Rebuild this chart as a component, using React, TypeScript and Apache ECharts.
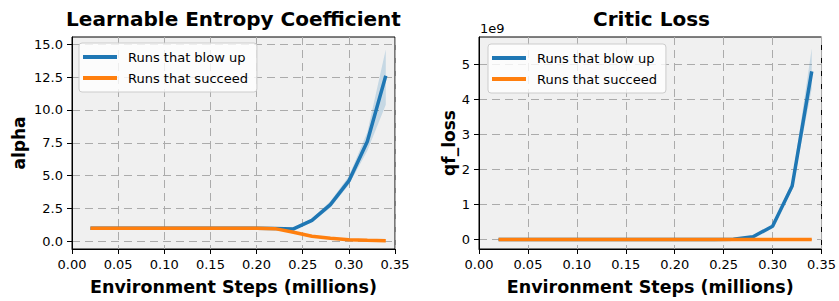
import React, { useEffect, useRef } from "react";
import * as echarts from "echarts";

// ---- data ----
const steps = [0.02, 0.04, 0.06, 0.08, 0.1, 0.12, 0.14, 0.16, 0.18, 0.2, 0.22, 0.24, 0.26, 0.28, 0.3, 0.32, 0.34];

const alphaBlowUp = [1.0, 1.0, 1.0, 1.0, 1.0, 1.0, 1.0, 1.0, 1.0, 1.0, 0.98, 0.95, 1.6, 2.8, 4.6, 7.6, 12.6];
const alphaBlowUpLow = [0.99, 0.99, 0.99, 0.99, 0.99, 0.99, 0.99, 0.99, 0.99, 0.99, 0.95, 0.9, 1.45, 2.55, 4.3, 6.9, 10.4];
const alphaBlowUpHigh = [1.01, 1.01, 1.01, 1.01, 1.01, 1.01, 1.01, 1.01, 1.01, 1.01, 1.01, 1.03, 1.75, 3.05, 4.95, 8.3, 14.6];
const alphaSucceed = [1.0, 1.0, 1.0, 1.0, 1.0, 1.0, 1.0, 1.0, 1.0, 1.0, 0.97, 0.69, 0.39, 0.23, 0.13, 0.08, 0.05];

const qfBlowUp = [0, 0, 0, 0, 0, 0, 0, 0, 0, 0, 0, 0, 0.01e9, 0.08e9, 0.38e9, 1.53e9, 4.8e9];
const qfBlowUpLow = [0, 0, 0, 0, 0, 0, 0, 0, 0, 0, 0, 0, 0.005e9, 0.06e9, 0.34e9, 1.42e9, 4.3e9];
const qfBlowUpHigh = [0, 0, 0, 0, 0, 0, 0, 0, 0, 0, 0, 0, 0.015e9, 0.1e9, 0.42e9, 1.65e9, 5.45e9];
const qfSucceed = [0.001e9, 0.001e9, 0.001e9, 0.001e9, 0.001e9, 0.001e9, 0.001e9, 0.001e9, 0.001e9, 0.001e9, 0.001e9, 0.001e9, 0.001e9, 0.001e9, 0.001e9, 0.001e9, 0.001e9];

const xTickLabels = [0, 0.05, 0.1, 0.15, 0.2, 0.25, 0.3, 0.35];
const yTicksAlpha = [0, 2.5, 5, 7.5, 10, 12.5, 15];
const yTicksQf = [0, 1e9, 2e9, 3e9, 4e9, 5e9];

const seriesNames = ["Runs that blow up", "Runs that succeed"];
const titles = ["Learnable Entropy Coefficient", "Critic Loss"];

const BLUE = "#1f77b4";
const ORANGE = "#ff7f0e";
const BAND = "rgba(31,119,180,0.2)";
const FONT = "DejaVu Sans";
const GRIDLINE = { color: "#ababab", type: [8, 5], width: 1 };

const pairs = (ys: number[]) => steps.map((x, i) => [x, ys[i]]);

export default function App() {
  const ref = useRef<HTMLDivElement>(null);
  useEffect(() => {
    document.body.style.margin = "0";
    if (!ref.current) return;
    const chart = echarts.init(ref.current, undefined, { renderer: "svg" });

    const grids = [
      { left: 72, top: 37, width: 323, height: 213 },
      { left: 479, top: 37, width: 345, height: 214 },
    ];

    const xAxisCommon = (gi: number) => ({
      type: "value",
      gridIndex: gi,
      min: xTickLabels[0],
      max: xTickLabels[xTickLabels.length - 1],
      interval: 0.05,
      name: "Environment Steps (millions)",
      nameLocation: "middle",
      nameGap: 29,
      nameTextStyle: { fontFamily: FONT, fontWeight: "bold", fontSize: 17.5, color: "#000" },
      axisLine: { show: true, onZero: false, lineStyle: { color: "#000", width: 1 } },
      axisTick: { show: true, length: 5, lineStyle: { color: "#000", width: 1 } },
      axisLabel: {
        fontFamily: FONT,
        fontSize: 13,
        color: "#000",
        margin: 9,
        formatter: (v: number) => v.toFixed(2),
      },
      splitLine: { show: true, lineStyle: GRIDLINE },
    });

    const yAxisCommon = (gi: number, name: string, min: number, max: number, ticks: number[], fmt: (v: number) => string, gap: number) => ({
      type: "value",
      gridIndex: gi,
      min,
      max,
      name,
      nameLocation: "middle",
      nameGap: gap,
      nameTextStyle: { fontFamily: FONT, fontWeight: "bold", fontSize: 17, color: "#000" },
      axisLine: { show: true, onZero: false, lineStyle: { color: "#000", width: 1 } },
      axisTick: { show: true, length: 5, customValues: ticks, lineStyle: { color: "#000", width: 1 } },
      axisLabel: {
        fontFamily: FONT,
        fontSize: 13,
        color: "#000",
        margin: 9,
        customValues: ticks,
        formatter: fmt,
      },
      splitLine: { show: true, lineStyle: GRIDLINE },
    });

    const bandSeries = (gi: number, lo: number[], hi: number[]) => ({
      type: "custom",
      coordinateSystem: "cartesian2d",
      xAxisIndex: gi,
      yAxisIndex: gi,
      silent: true,
      data: steps.map((x, i) => [x, lo[i], hi[i]]),
      encode: { x: 0, y: [1, 2] },
      renderItem: (params: any, api: any) => {
        if (params.dataIndex !== 0) return null;
        const upper = steps.map((x, i) => api.coord([x, hi[i]]));
        const lower = steps.map((x, i) => api.coord([x, lo[i]])).reverse();
        return {
          type: "polygon",
          shape: { points: upper.concat(lower) },
          style: { fill: BAND, stroke: "none" },
        };
      },
    });

    const makeSeries = (gi: number, lo: number[], hi: number[], blow: number[], succ: number[]) => [
      bandSeries(gi, lo, hi),
      {
        type: "line",
        name: seriesNames[0],
        xAxisIndex: gi,
        yAxisIndex: gi,
        data: pairs(blow),
        showSymbol: false,
        symbol: "none",
        itemStyle: { color: BLUE },
        lineStyle: { color: BLUE, width: 3.5 },
      },
      {
        type: "line",
        name: seriesNames[1],
        xAxisIndex: gi,
        yAxisIndex: gi,
        data: pairs(succ),
        showSymbol: false,
        symbol: "none",
        itemStyle: { color: ORANGE },
        lineStyle: { color: ORANGE, width: 3.5 },
      },
    ];

    const legendCommon = (left: number, top: number) => ({
      data: seriesNames,
      orient: "vertical",
      left,
      top,
      icon: "rect",
      itemWidth: 34,
      itemHeight: 4,
      itemGap: 7,
      padding: [7, 9, 7, 4],
      backgroundColor: "rgba(255,255,255,0.8)",
      borderColor: "#cccccc",
      borderWidth: 1,
      borderRadius: 3,
      selectedMode: false,
      textStyle: { fontFamily: FONT, fontSize: 13, color: "#000", lineHeight: 14, padding: [0, 0, 0, 6] },
    });

    const titleCommon = (text: string, left: number) => ({
      text,
      left,
      top: 9,
      textAlign: "center",
      padding: 0,
      textStyle: { fontFamily: FONT, fontWeight: "bold", fontSize: 20, color: "#000" },
    });

    const option = {
      animation: false,
      backgroundColor: "#ffffff",
      title: [titleCommon(titles[0], 233.5), titleCommon(titles[1], 651.5)],
      legend: [legendCommon(79, 43), legendCommon(488, 44)],
      grid: grids.map((g) => ({
        ...g,
        show: true,
        backgroundColor: "#f0f0f0",
        borderColor: "#000",
        borderWidth: 1,
        containLabel: false,
      })),
      xAxis: [xAxisCommon(0), xAxisCommon(1)],
      yAxis: [
        yAxisCommon(0, "alpha", -0.58, 15.55, yTicksAlpha, (v: number) => v.toFixed(1), 45),
        yAxisCommon(1, "qf_loss", -0.27e9, 5.78e9, yTicksQf, (v: number) => String(Math.round(v / 1e9)), 22),
      ],
      graphic: [
        {
          type: "text",
          left: 480,
          top: 22,
          style: { text: "1e9", font: `13px "${FONT}"`, fill: "#000" },
        },
      ],
      series: [
        ...makeSeries(0, alphaBlowUpLow, alphaBlowUpHigh, alphaBlowUp, alphaSucceed),
        ...makeSeries(1, qfBlowUpLow, qfBlowUpHigh, qfBlowUp, qfSucceed),
      ],
    };

    chart.setOption(option as any);
    return () => chart.dispose();
  }, []);

  return <div ref={ref} style={{ width: 839, height: 301, position: "absolute", left: 0, top: 0 }} />;
}
